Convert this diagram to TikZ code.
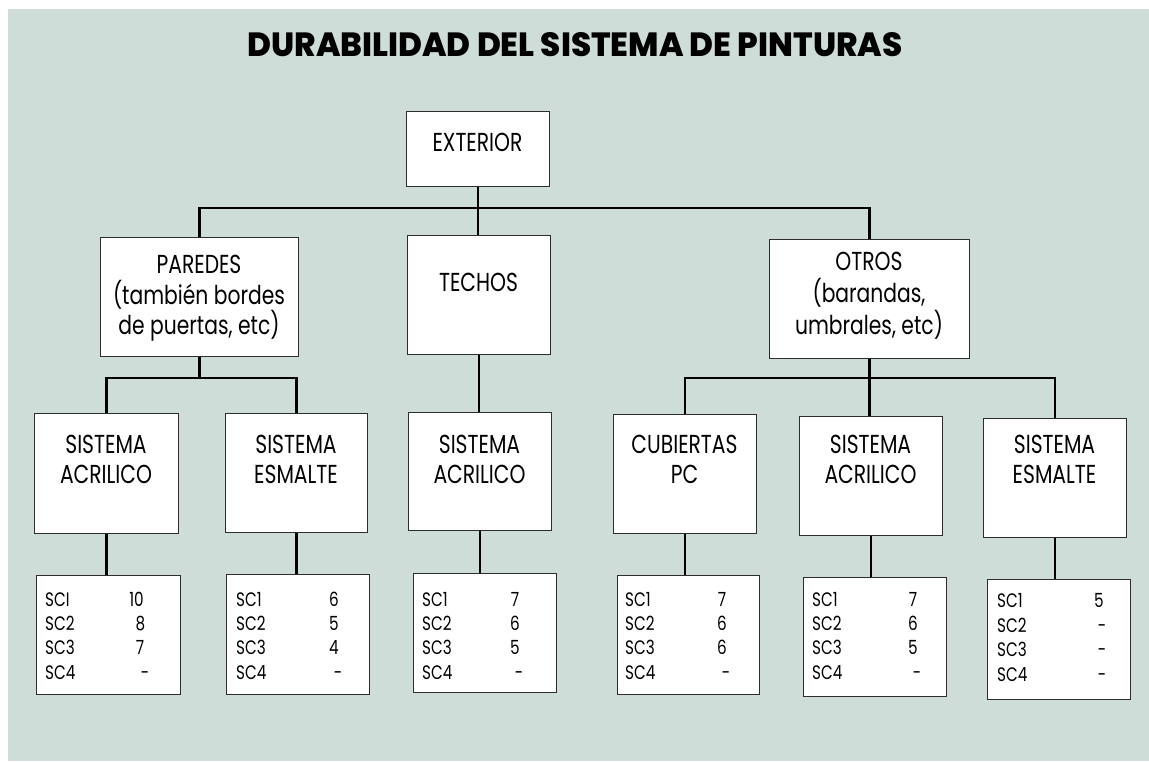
\documentclass[tikz,border=0pt]{standalone}
\usepackage{graphicx}
\usepackage{fontspec}
\setmainfont{Poppins}[BoldFont=* Bold, FakeStretch=0.78]
\newfontfamily\titlefont{Poppins}[UprightFont=* ExtraBold]
\definecolor{bg}{RGB}{206,221,216}
\definecolor{boxline}{RGB}{45,45,45}
\newcommand\boxfont{\fontsize{26}{30}\selectfont}
\newcommand\tabfont{\fontsize{19.5}{24}\selectfont}
\begin{document}
\begin{tikzpicture}[x=1pt,y=-1pt,
  conn/.style={line width=2.6pt, black},
  box/.style={draw=boxline, line width=1.3pt, fill=white, inner sep=0pt, anchor=north west},
  lbl/.style={font=\boxfont, anchor=base, inner sep=0pt},
  tab/.style={font=\tabfont, anchor=base west, inner sep=0pt},
  val/.style={font=\tabfont, anchor=base, inner sep=0pt}]
\useasboundingbox (0,0) rectangle (1149,761);
\fill[bg] (8,9) rectangle (1149,761);
\node[inner sep=0pt] (title) at (575,45) {\resizebox{655pt}{24pt}{\titlefont DURABILIDAD DEL SISTEMA DE PINTURAS}};
% boxes
\node[box, minimum width=143pt, minimum height=75pt] (ext) at (406,111) {};
\node[box, minimum width=198pt, minimum height=119pt] (par) at (100,237) {};
\node[box, minimum width=143pt, minimum height=119pt] (techos) at (407,235) {};
\node[box, minimum width=200pt, minimum height=119pt] (otros) at (769,239) {};
\node[box, minimum width=144pt, minimum height=120pt] (s1) at (34,413) {};
\node[box, minimum width=142pt, minimum height=119pt] (s2) at (225,413) {};
\node[box, minimum width=143pt, minimum height=118pt] (s3) at (408,412) {};
\node[box, minimum width=143pt, minimum height=119pt] (s4) at (613,414) {};
\node[box, minimum width=143pt, minimum height=119pt] (s5) at (799,416) {};
\node[box, minimum width=143pt, minimum height=119pt] (s6) at (983,418) {};
\node[box, minimum width=144pt, minimum height=119pt] (t1) at (36,575) {};
\node[box, minimum width=143pt, minimum height=120pt] (t2) at (226,574) {};
\node[box, minimum width=143pt, minimum height=119pt] (t3) at (413,573) {};
\node[box, minimum width=142pt, minimum height=119pt] (t4) at (617,575) {};
\node[box, minimum width=143pt, minimum height=119pt] (t5) at (803,577) {};
\node[box, minimum width=143pt, minimum height=120pt] (t6) at (987,579) {};
% connectors
\draw[conn] (ext.south) -- (ext.south |- techos.north);
\draw[conn] (par.north) |- (ext.south |- 0,208) -| (otros.north);
\draw[conn] (par.south) -- (par.south |- 0,378);
\draw[conn] (s1.north) |- (par.south |- 0,378) -| (s2.north);
\draw[conn] (techos.south) -- (techos.south |- s3.north);
\draw[conn] (otros.south) -- (otros.south |- s5.north);
\draw[conn] (s4.north) |- (otros.south |- 0,378) -| (s6.north);
\foreach \n in {1,...,6} {\draw[conn] (s\n.south) -- (s\n.south |- t\n.north);}
% box texts
\node[lbl] (extT) at (477.5,151.5) {EXTERIOR};
\node[lbl] (parA) at (199,273) {PAREDES};
\node[lbl] (parB) at (199,304) {(también bordes};
\node[lbl] (parC) at (199,334) {de puertas, etc)};
\node[lbl] (techT) at (478.5,291) {TECHOS};
\node[lbl] (otrA) at (869,270) {OTROS};
\node[lbl] (otrB) at (869,302) {(barandas,};
\node[lbl] (otrC) at (869,334) {umbrales, etc)};
\node[lbl] (s1a) at (106,453) {SISTEMA};
\node[lbl] (s1b) at (106,483) {ACRILICO};
\node[lbl] (s2a) at (296,453) {SISTEMA};
\node[lbl] (s2b) at (296,483) {ESMALTE};
\node[lbl] (s3a) at (479.5,453) {SISTEMA};
\node[lbl] (s3b) at (479.5,483) {ACRILICO};
\node[lbl] (s4a) at (684.5,453) {CUBIERTAS};
\node[lbl] (s4b) at (684.5,483) {PC};
\node[lbl] (s5a) at (870.5,453) {SISTEMA};
\node[lbl] (s5b) at (870.5,483) {ACRILICO};
\node[lbl] (s6a) at (1054.5,453) {SISTEMA};
\node[lbl] (s6b) at (1054.5,483) {ESMALTE};
% tables
\foreach \lab/\val/\by/\vx [count=\i] in {SCI/10/606/136.5, SC2/8/630/140.5, SC3/7/654/140, SC4/-/679/145}
  {\node[tab] (t1l\i) at (45,\by) {\lab}; \node[val] (t1v\i) at (\vx,\by) {\val};}
\foreach \lab/\val/\by/\vx [count=\i] in {SC1/6/606/334, SC2/5/630/334, SC3/4/654/334, SC4/-/679/338}
  {\node[tab] (t2l\i) at (236,\by) {\lab}; \node[val] (t2v\i) at (\vx,\by) {\val};}
\foreach \lab/\val/\by/\vx [count=\i] in {SC1/7/606/515, SC2/6/630/515, SC3/5/654/515, SC4/-/679/519}
  {\node[tab] (t3l\i) at (422,\by) {\lab}; \node[val] (t3v\i) at (\vx,\by) {\val};}
\foreach \lab/\val/\by/\vx [count=\i] in {SC1/7/606/722, SC2/6/630/722, SC3/6/654/722, SC4/-/679/726}
  {\node[tab] (t4l\i) at (625,\by) {\lab}; \node[val] (t4v\i) at (\vx,\by) {\val};}
\foreach \lab/\val/\by/\vx [count=\i] in {SC1/7/606/913, SC2/6/630/913, SC3/5/654/913, SC4/-/679/917}
  {\node[tab] (t5l\i) at (812,\by) {\lab}; \node[val] (t5v\i) at (\vx,\by) {\val};}
\foreach \lab/\val/\by/\vx [count=\i] in {SC1/5/607/1099, SC2/-/632/1102, SC3/-/656/1102, SC4/-/681/1102}
  {\node[tab] (t6l\i) at (997,\by) {\lab}; \node[val] (t6v\i) at (\vx,\by) {\val};}
\end{tikzpicture}
\end{document}
